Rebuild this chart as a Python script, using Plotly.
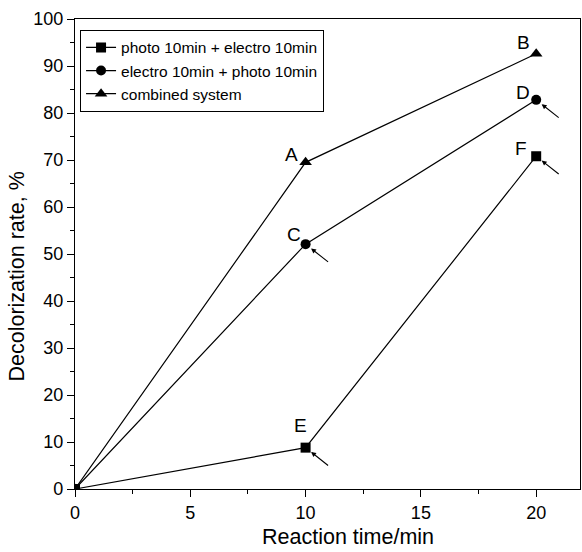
import plotly.graph_objects as go

# Reaction time (min) and decolorization rate (%) for the three treatment modes
time_min = [0, 10, 20]
photo_then_electro = [0, 8.8, 70.8]
electro_then_photo = [0, 52.1, 82.8]
combined_system = [0, 69.5, 92.6]

series_names = [
    "photo 10min + electro 10min",
    "electro 10min + photo 10min",
    "combined system",
]
series_symbols = ["square", "circle", "triangle-up"]
x_title = "Reaction time/min"
y_title = "Decolorization rate, %"

# Point labels: (series index, point index, letter, x shift px, y shift px, arrow?)
point_labels = [
    (2, 1, "A", -14, 8, False),
    (2, 2, "B", -13, 11, False),
    (1, 1, "C", -12, 10, True),
    (1, 2, "D", -13, 7, True),
    (0, 1, "E", -5, 22, True),
    (0, 2, "F", -15, 8, True),
]

FONT = "Liberation Sans, Arial, sans-serif"
all_series = [photo_then_electro, electro_then_photo, combined_system]

fig = go.Figure()
for name, sym, ys in zip(series_names, series_symbols, all_series):
    fig.add_trace(go.Scatter(
        x=time_min, y=ys, name=name, mode="lines+markers",
        line=dict(color="black", width=1.2),
        marker=dict(symbol=sym, size=10 if sym != "triangle-up" else 11, color="black"),
    ))

for si, pi, letter, dx, dy, arrow in point_labels:
    xv, yv = time_min[pi], all_series[si][pi]
    fig.add_annotation(
        x=xv, y=yv, text=letter, showarrow=False,
        xshift=dx, yshift=dy, font=dict(family=FONT, size=19, color="black"),
    )
    if arrow:
        fig.add_annotation(
            x=xv, y=yv, ax=24, ay=19, text="", showarrow=True,
            arrowhead=2, arrowsize=0.9, arrowwidth=1.1, arrowcolor="black",
            standoff=7,
        )

# Axis titles placed as paper-referenced text
fig.add_annotation(
    text=x_title, xref="paper", yref="paper", x=0.541, y=-0.102,
    xanchor="center", yanchor="middle", showarrow=False,
    font=dict(family=FONT, size=21.5, color="black"),
)
fig.add_annotation(
    text=y_title, xref="paper", yref="paper", x=-0.114, y=0.453,
    xanchor="center", yanchor="middle", showarrow=False, textangle=-90,
    font=dict(family=FONT, size=21.5, color="black"),
)

fig.update_layout(
    width=582, height=552,
    margin=dict(l=75, r=2, t=19, b=63),
    paper_bgcolor="white", plot_bgcolor="white",
    font=dict(family=FONT, size=17, color="black"),
    showlegend=True,
    legend=dict(
        x=0.01, y=0.977, xanchor="left", yanchor="top",
        bordercolor="black", borderwidth=1, bgcolor="white",
        font=dict(family=FONT, size=15.5, color="black"),
        tracegroupgap=0, itemwidth=30,
    ),
)

fig.update_xaxes(
    range=[0, 21.9], tickmode="linear", tick0=0, dtick=5,
    ticks="outside", ticklen=7, tickwidth=1.2, tickcolor="black",
    minor=dict(ticks="outside", ticklen=4, tickwidth=1.2, tickcolor="black", dtick=2.5),
    showline=True, linecolor="black", linewidth=1.2, mirror=True,
    showgrid=False, zeroline=False,
    tickfont=dict(family=FONT, size=18),
)
fig.update_yaxes(
    range=[0, 100], tickmode="linear", tick0=0, dtick=10,
    ticks="outside", ticklen=7, tickwidth=1.2, tickcolor="black",
    minor=dict(ticks="outside", ticklen=4, tickwidth=1.2, tickcolor="black", dtick=5),
    showline=True, linecolor="black", linewidth=1.2, mirror=True,
    showgrid=False, zeroline=False,
    tickfont=dict(family=FONT, size=18),
)

fig.write_html("out.html")
